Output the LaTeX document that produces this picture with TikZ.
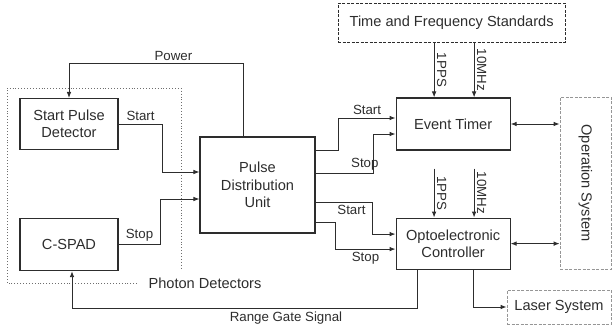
\documentclass[tikz,border=0pt]{standalone}
\usepackage{fontspec}
\usepackage{graphicx}
\setmainfont{Liberation Sans}
\usetikzlibrary{arrows.meta, positioning, calc}
\definecolor{lineC}{RGB}{ 45,  45,  45}
\definecolor{greyC}{RGB}{150, 150, 150}
\definecolor{dotC} {RGB}{110, 110, 110}
\tikzset{
  blk/.style    = {rectangle, draw=lineC, line width=1.1pt, align=center,
                   font=\fontsize{14.6pt}{17.3pt}\selectfont, text=lineC, inner sep=2pt},
  stdbox/.style = {blk, draw=lineC, dash pattern=on 3pt off 1.5pt, line width=0.8pt},
  extbox/.style = {blk, draw=greyC, dash pattern=on 3pt off 1.5pt, line width=0.8pt},
  grpbox/.style = {draw=dotC, dotted, line width=0.9pt},
  arr/.style    = {-{Latex[length=6pt,width=4.6pt]}, line width=0.9pt, color=lineC},
  darr/.style   = {{Latex[length=6pt,width=4.6pt]}-{Latex[length=6pt,width=4.6pt]},
                   line width=0.9pt, color=lineC},
  lbl/.style    = {font=\fontsize{13.3pt}{15pt}\selectfont, text=lineC, inner sep=2.5pt},
}
\begin{document}
\begin{tikzpicture}[x=1pt, y=-1pt]
\useasboundingbox (0,0) rectangle (612,330);

% ---- Nodes ------------------------------------------------------------------
\node[blk, minimum width=98pt, minimum height=51pt] (SPD) at (69,124)
  {Start Pulse\\Detector};
\node[blk, minimum width=98pt, minimum height=52pt, below=68pt of SPD] (CSPAD)
  {C-SPAD};

\node[blk, minimum width=115pt, minimum height=96pt] (PDU) at (257.5,185)
  {Pulse\\Distribution\\Unit};

\node[blk, minimum width=114pt, minimum height=52pt, right=277pt of SPD] (ET)
  {Event Timer};
\node[blk, minimum width=114pt, minimum height=51pt, below=67pt of ET] (OC)
  {Optoelectronic\\Controller};

\node[stdbox, minimum width=227pt, minimum height=39pt, above=55pt of ET, xshift=-1.5pt] (TFS)
  {Time and Frequency Standards};

\node[extbox, minimum width=51pt, minimum height=172pt] (OS) at (585.5,183)
  {\rotatebox[origin=c]{-90}{Operation System}};
\node[extbox, minimum width=104pt, minimum height=34pt] (LS) at (559,307)
  {Laser System};

% ---- Photon detector group -------------------------------------------------
\draw[grpbox] (137,283) -| (7,88) -| (181,270);
\node[lbl, font=\fontsize{14.6pt}{17pt}\selectfont] (PDlab) at (205,283) {Photon Detectors};

% ---- Detectors to distribution unit ---------------------------------------
\draw[arr] (SPD.east) -- node[lbl, above]{Start} ++(44pt,0pt) |- ([yshift=13pt]PDU.west);
\draw[arr] (CSPAD.east) -- node[lbl, above]{Stop} ++(42pt,0pt) |- ([yshift=-14pt]PDU.west);

% ---- Power ------------------------------------------------------------------
\draw[arr] ([xshift=-14.5pt]PDU.north) -- ++(0pt,73pt)
  -- node[lbl, above, pos=0.4]{Power} ++(-174pt,0pt) -- (SPD.north);

% ---- Distribution unit to timer / controller ------------------------------
\draw[arr] ([yshift=35pt]PDU.east) -- ++(23pt,0pt)
  |- node[lbl, above, pos=0.75]{Start} ([yshift=6pt]ET.west);
\draw[arr] ([yshift=12pt]PDU.east) -- node[lbl, above, pos=0.85]{Stop} ++(58pt,0pt)
  |- ([yshift=-10pt]ET.west);
\draw[arr] ([yshift=-17pt]PDU.east) -- node[lbl, below, pos=0.63]{Start} ++(57pt,0pt)
  |- ([yshift=9.5pt]OC.west);
\draw[arr] ([yshift=-37pt]PDU.east) -- ++(20pt,0pt)
  |- node[lbl, below, pos=0.75]{Stop} ([yshift=-5.5pt]OC.west);

% ---- Time and frequency inputs --------------------------------------------
\foreach \dx/\txt in {-19/1PPS, 21/10MHz} {
  \draw[arr] ([xshift=\dx pt]ET.north |- TFS.south) --
    node[lbl, rotate=-90, anchor=south]{\txt} ([xshift=\dx pt]ET.north);
  \draw[arr] ([xshift=\dx pt, yshift=49pt]OC.north) --
    node[lbl, rotate=-90, anchor=south]{\txt} ([xshift=\dx pt]OC.north);
}

% ---- Operation system / laser ---------------------------------------------
\draw[darr] (ET.east) -- (ET.east -| OS.west);
\draw[darr] (OC.east) -- (OC.east -| OS.west);
\draw[arr] ([xshift=20pt]OC.south) |- (LS.west);

% ---- Range gate feedback ---------------------------------------------------
\draw[arr] ([xshift=-36pt]OC.south) -- ++(0pt,-39pt)
  -| node[lbl, below, pos=0.19]{Range Gate Signal} ([xshift=3pt]CSPAD.south);

\end{tikzpicture}
\end{document}
